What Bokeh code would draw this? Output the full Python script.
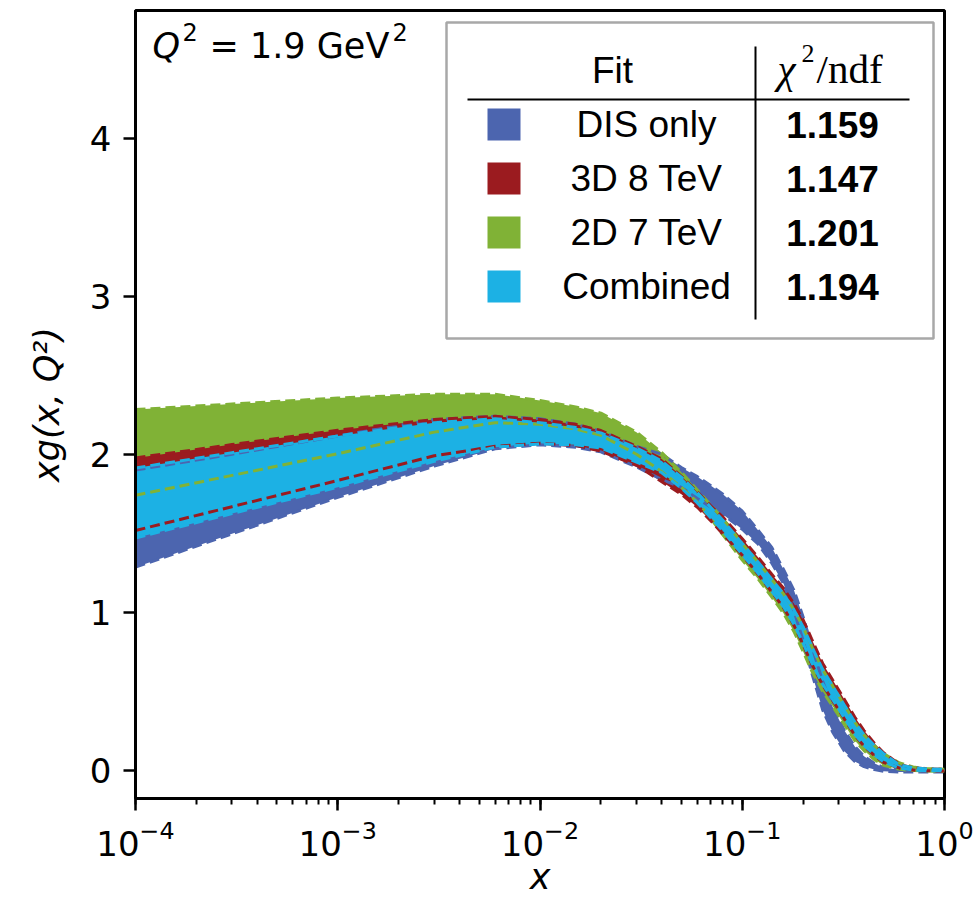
from bokeh.plotting import figure
from bokeh.models import Range1d, LogTicker, FixedTicker
from bokeh.core.properties import value
from bokeh.embed import file_html
from bokeh.resources import INLINE
import math

# ---------------- data ----------------
x = [1e-4, 3e-4, 1e-3, 3e-3, 6e-3, 1e-2, 1.5e-2, 2e-2, 3e-2, 4e-2, 5e-2, 6e-2,
     7e-2, 8e-2, 0.1, 0.12, 0.14, 0.16, 0.18, 0.2, 0.22, 0.25, 0.28, 0.32,
     0.36, 0.4, 0.45, 0.5, 0.6, 0.7, 0.8, 1.0]

dis_hi = [1.90, 2.00, 2.116, 2.22, 2.24, 2.225, 2.19, 2.146, 2.05, 2.00, 1.916, 1.858,
          1.80, 1.748, 1.64, 1.517, 1.41, 1.27, 1.14, 0.97, 0.79, 0.56, 0.40, 0.25,
          0.15, 0.087, 0.043, 0.015, 0.003, 0.002, 0.002, 0.002]
dis_lo = [1.285, 1.496, 1.727, 1.925, 2.035, 2.06, 2.045, 2.015, 1.92, 1.84, 1.79, 1.72,
          1.665, 1.62, 1.525, 1.43, 1.31, 1.18, 1.01, 0.82, 0.62, 0.38, 0.24, 0.12,
          0.055, 0.022, 0.003, -0.008, -0.012, -0.012, -0.012, -0.012]

tev8_hi = [1.977, 2.061, 2.152, 2.22, 2.24, 2.22, 2.19, 2.15, 2.05, 1.97, 1.86, 1.761,
           1.672, 1.604, 1.465, 1.346, 1.24, 1.151, 1.055, 0.952, 0.832, 0.675, 0.57, 0.447,
           0.336, 0.25, 0.17, 0.11, 0.035, 0.015, 0.008, 0.005]
tev8_lo = [1.517, 1.668, 1.834, 1.99, 2.05, 2.07, 2.055, 2.02, 1.93, 1.826, 1.746, 1.664,
           1.578, 1.496, 1.36, 1.239, 1.127, 1.028, 0.917, 0.795, 0.675, 0.537, 0.441, 0.323,
           0.221, 0.152, 0.092, 0.048, 0.012, 0.0, -0.004, -0.006]

tev7_hi = [2.283, 2.318, 2.356, 2.38, 2.38, 2.34, 2.30, 2.26, 2.14, 2.01, 1.886, 1.774,
           1.677, 1.594, 1.435, 1.316, 1.208, 1.116, 1.016, 0.907, 0.787, 0.636, 0.533, 0.411,
           0.304, 0.223, 0.155, 0.104, 0.045, 0.02, 0.01, 0.006]
tev7_lo = [1.74, 1.866, 2.003, 2.14, 2.20, 2.19, 2.16, 2.12, 2.00, 1.89, 1.79, 1.697,
           1.592, 1.491, 1.33, 1.209, 1.095, 0.993, 0.878, 0.751, 0.631, 0.498, 0.404, 0.287,
           0.188, 0.124, 0.067, 0.03, 0.005, -0.003, -0.006, -0.008]

comb_hi = [1.913, 2.010, 2.116, 2.20, 2.225, 2.20, 2.17, 2.135, 2.04, 1.957, 1.855, 1.756,
           1.663, 1.584, 1.435, 1.316, 1.208, 1.116, 1.016, 0.907, 0.787, 0.636, 0.533, 0.411,
           0.304, 0.223, 0.155, 0.104, 0.032, 0.016, 0.008, 0.005]
comb_lo = [1.47, 1.624, 1.791, 1.955, 2.045, 2.065, 2.06, 2.04, 1.95, 1.883, 1.785, 1.692,
           1.597, 1.516, 1.365, 1.244, 1.132, 1.034, 0.924, 0.803, 0.683, 0.544, 0.447, 0.329,
           0.227, 0.157, 0.097, 0.052, 0.012, 0.0, -0.004, -0.005]

fit_names = ["DIS only", "3D 8 TeV", "2D 7 TeV", "Combined"]
chi2_ndf = ["1.159", "1.147", "1.201", "1.194"]
y_ticks = [0, 1, 2, 3, 4]

# ---------------- styles ----------------
BLUE, RED, GREEN, CYAN = "#4c65af", "#9b1b1f", "#80b236", "#1cb1e4"
fit_colors = [BLUE, RED, GREEN, CYAN]
SANS = "DejaVu Sans"
HELV = "Liberation Sans"
SERIF = "Liberation Serif"

XMIN, XMAX, YMIN, YMAX = 1e-4, 1.0, -0.18, 4.81
FL, FT, FW, FH = 135, 10, 809, 788

p = figure(frame_width=FW, frame_height=FH, x_axis_type="log",
           x_range=Range1d(XMIN, XMAX), y_range=Range1d(YMIN, YMAX),
           output_backend="svg", toolbar_location=None,
           min_border_left=FL, min_border_right=977 - FL - FW,
           min_border_top=FT, min_border_bottom=909 - FT - FH)
p.grid.visible = False
p.background_fill_color = "white"
p.border_fill_color = "white"
p.outline_line_color = "black"
p.outline_line_width = 3

# helpers converting page pixels to data coordinates (for decorations only)
def PX(px):
    lo, hi = math.log10(XMIN), math.log10(XMAX)
    return 10 ** (lo + (px - FL) / FW * (hi - lo))
def PY(py):
    return YMAX - (py - FT) / FH * (YMAX - YMIN)

bands = [(dis_lo, dis_hi, BLUE), (tev7_lo, tev7_hi, GREEN),
         (tev8_lo, tev8_hi, RED), (comb_lo, comb_hi, CYAN)]
for lo, hi, col in bands:
    p.varea(x=x, y1=lo, y2=hi, fill_color=col, fill_alpha=1.0)
for lo, hi, col in bands:
    p.line(x, lo, line_color=col, line_width=3, line_dash="10 5")
    p.line(x, hi, line_color=col, line_width=3, line_dash="10 5")

# ---------------- axes ----------------
p.xaxis.ticker = LogTicker(num_minor_ticks=10)
p.yaxis.ticker = FixedTicker(ticks=y_ticks, minor_ticks=[])
for ax in (p.xaxis[0], p.yaxis[0]):
    ax.axis_line_width = 3
    ax.major_tick_line_width = 2.5
    ax.major_tick_in = 0
    ax.major_tick_out = 12
    ax.minor_tick_in = 0
    ax.minor_tick_out = 6
    ax.minor_tick_line_width = 2
    ax.major_label_text_font = SANS
    ax.major_label_text_font_size = "34px"
    ax.major_label_text_color = "black"
    ax.axis_label_text_font = SANS
    ax.axis_label_text_font_size = "35px"
    ax.axis_label_text_font_style = "italic"
    ax.axis_label_text_color = "black"
p.yaxis.minor_tick_line_color = None
p.xaxis.axis_label = "x"
p.yaxis.axis_label = "xg(x, Q²)"
p.yaxis.major_label_standoff = 12
p.xaxis.major_label_standoff = 9
p.yaxis.axis_label_standoff = 20
p.xaxis.axis_label_standoff = -2

def txt(px, py, s, size, font=SANS, style="normal", align="left", base="alphabetic"):
    p.text(x=[PX(px)], y=[PY(py)], text=[s], text_font=value(font),
           text_font_size=size, text_font_style=style, text_align=align,
           text_baseline=base, text_color="black")

# ---------------- annotation: Q^2 = 1.9 GeV^2 ----------------
txt(152, 45, "Q", "35px", style="italic")
txt(182, 31, "2", "24px")
txt(209, 45, "= 1.9 GeV", "35px")
txt(392, 31, "2", "24px")

# ---------------- legend table ----------------
p.quad(left=[PX(446)], right=[PX(933)], top=[PY(22)], bottom=[PY(338)],
       fill_color="white", line_color="#a8a8a8", line_width=2.5)
p.line([PX(467), PX(909)], [PY(99), PY(99)], line_color="black", line_width=2)
p.line([PX(755), PX(755)], [PY(46), PY(319)], line_color="black", line_width=2)
txt(612, 70, "Fit", "37px", font=HELV, align="center", base="middle")
txt(777, 68, "χ", "41px", font=SERIF, style="italic")
txt(801, 53, "2", "26px", font=SERIF)
txt(816, 68, "/ndf", "41px", font=SERIF)
rows = [124, 178, 232, 286]
p.quad(left=[PX(487)] * 4, right=[PX(520)] * 4,
       top=[PY(r - 16) for r in rows], bottom=[PY(r + 16) for r in rows],
       fill_color=fit_colors, line_color=None)
p.text(x=[PX(646)] * 4, y=[PY(r) for r in rows], text=fit_names,
       text_font=value(HELV), text_font_size="37px", text_align="center",
       text_baseline="middle", text_color="black")
p.text(x=[PX(832)] * 4, y=[PY(r) for r in rows], text=chi2_ndf,
       text_font=value(HELV), text_font_size="37px", text_font_style="bold",
       text_align="center", text_baseline="middle", text_color="black")

open("out.html", "w").write(file_html(p, INLINE))
